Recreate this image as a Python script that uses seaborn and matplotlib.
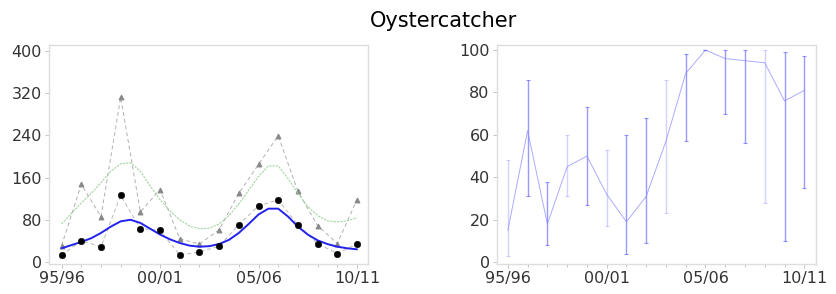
import numpy as np
import pandas as pd
import seaborn as sns
import matplotlib.pyplot as plt

sns.set_style("white")
plt.rcParams['font.family'] = ['DejaVu Sans']

#%% data
seasons = ["95/96", "96/97", "97/98", "98/99", "99/00", "00/01", "01/02", "02/03",
           "03/04", "04/05", "05/06", "06/07", "07/08", "08/09", "09/10", "10/11"]
tickLabels = ["95/96", "00/01", "05/06", "10/11"]

counts = [13, 40, 29, 126, 63, 60, 13, 19, 30, 71, 106, 118, 70, 35, 16, 34]
peakCounts = [31, 147, 86, 312, 95, 137, 44, 34, 61, 130, 185, 239, 134, 69, 35, 118]

# smoothed trend, read at half-season steps
trendX = np.arange(0, 15.5, 0.5)
trend = [26, 32, 38, 45, 55, 67, 77, 80, 74, 63, 52, 43, 36, 31, 29, 30,
         34, 42, 55, 72, 90, 101, 101, 86, 67, 52, 41, 34, 29, 26, 24]
trendUpper = [72, 92, 112, 130, 150, 172, 186, 188, 172, 144, 118, 97, 80, 68, 63, 64,
              72, 88, 110, 136, 162, 182, 182, 158, 130, 105, 88, 78, 76, 78, 84]

# index (percent)
index = [15, 62, 18, 45, 50, 32, 19, 31, 57, 89, 100, 96, 95, 94, 76, 81]
indexLow = [3, 31, 8, 31, 27, 17, 4, 9, 23, 57, 100, 70, 56, 28, 10, 35]
indexHigh = [48, 86, 38, 60, 73, 53, 60, 68, 86, 98, 100, 100, 100, 100, 99, 97]
faintBar = [1, 0, 0, 1, 0, 1, 0, 0, 1, 0, 0, 0, 0, 1, 0, 0]

xs = np.arange(len(seasons))
df = pd.DataFrame({"x": xs, "count": counts, "peak": peakCounts, "index": index})
trendDf = pd.DataFrame({"x": trendX, "trend": trend, "upper": trendUpper})

#%% figure
fig = plt.figure(figsize=(8.36, 2.94), dpi=100)
ax1 = fig.add_axes([0.0586, 0.102, 0.3816, 0.745])
ax2 = fig.add_axes([0.594, 0.102, 0.382, 0.745])

sns.lineplot(data=df, x="x", y="peak", ax=ax1, color="#b0b0b0", lw=0.7,
             linestyle=(0, (4, 3)), marker="^", markersize=3.5,
             markerfacecolor="#888888", markeredgecolor="#888888")
sns.lineplot(data=df, x="x", y="count", ax=ax1, color="#b8b8b8", lw=0.7,
             linestyle=(0, (4, 3)))
sns.scatterplot(data=df, x="x", y="count", ax=ax1, color="black", s=22,
                edgecolor="black", zorder=5)
sns.lineplot(data=trendDf, x="x", y="upper", ax=ax1, color="#9fd69f", lw=0.8,
             linestyle=(0, (2, 1)))
sns.lineplot(data=trendDf, x="x", y="trend", ax=ax1, color="#2222ee", lw=1.4)

ax1.set_xlim(-0.64, 15.56)
ax1.set_ylim(-3.8, 411)
ax1.set_yticks([0, 80, 160, 240, 320, 400])

lowErr = np.array(index) - np.array(indexLow)
highErr = np.array(indexHigh) - np.array(index)
for i in xs:
    a = 0.22 if faintBar[i] else 0.5
    ax2.errorbar(xs[i], index[i], yerr=[[lowErr[i]], [highErr[i]]], fmt="none",
                 ecolor="#3333ff", alpha=a, elinewidth=1.0, capsize=1.5, capthick=0.8)
sns.lineplot(data=df, x="x", y="index", ax=ax2, color="#8888ff", lw=0.7, alpha=0.7)
ax2.set_xlim(-0.57, 15.59)
ax2.set_ylim(-0.9, 102.4)
ax2.set_yticks([0, 20, 40, 60, 80, 100])

for ax in (ax1, ax2):
    ax.set_xlabel("")
    ax.set_ylabel("")
    ax.set_xticks([0, 5, 10, 15])
    ax.set_xticklabels(tickLabels)
    ax.set_xticks(xs, minor=True)
    ax.tick_params(axis="both", which="major", labelsize=11.5, labelcolor="#333333",
                   length=3, color="#bbbbbb", width=0.6, pad=2)
    ax.tick_params(axis="x", which="minor", length=2, color="#bbbbbb", width=0.6)
    ax.tick_params(bottom=True, left=True, which="both")
    for s in ax.spines.values():
        s.set_color("#dddddd")
        s.set_linewidth(1.0)

fig.text(0.531, 0.93, "Oystercatcher", ha="center", va="center", fontsize=15,
         color="black")

fig.savefig("out.png", dpi=100)
